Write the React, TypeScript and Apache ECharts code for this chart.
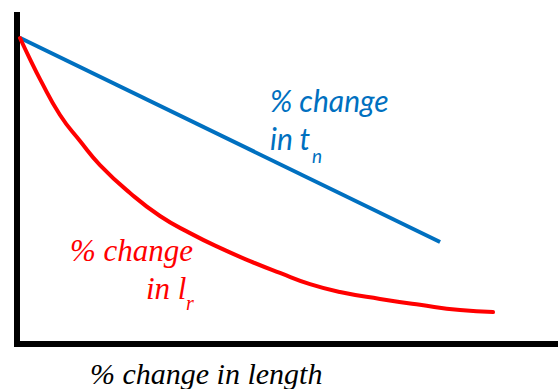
import React, { useEffect, useRef } from "react";
import * as echarts from "echarts";

// x: % change in length (0..100 scale), y: % change (0..100 scale)
const blueX = [0.6, 78.2];
const blueY = [93.0, 31.0];
const redX = [0.55, 2.4, 4.25, 7.95, 11.65, 15.34, 20.89, 26.43, 31.98, 37.52, 43.07, 48.61, 54.16, 59.7, 67.1, 74.49, 81.89, 87.99];
const redY = [93.0, 86.6, 80.5, 69.6, 61.7, 54.4, 45.9, 38.9, 33.7, 29.2, 25.2, 21.6, 18.2, 15.8, 13.7, 11.9, 10.3, 9.7];
const xTitle = "% change in length";
const blueLabel = ["% change", "in t", "n"];
const redLabel = ["% change", "in l", "r"];

export default function App() {
  const ref = useRef<HTMLDivElement>(null);
  useEffect(() => {
    if (!ref.current) return;
    const chart = echarts.init(ref.current, null, { renderer: "svg" });
    const sans = { fontFamily: "Lato, 'Open Sans', sans-serif", fontStyle: "italic" };
    const serif = { fontFamily: "'Times New Roman', 'Liberation Serif', Times, serif", fontStyle: "italic" };
    chart.setOption({
      animation: false,
      grid: { left: 17, right: 0, top: 15, bottom: 45 },
      xAxis: {
        type: "value",
        min: 0,
        max: 100,
        axisLine: { show: true, lineStyle: { color: "#000", width: 6, cap: "square" } },
        axisTick: { show: false },
        axisLabel: { show: false },
        splitLine: { show: false },
      },
      yAxis: {
        type: "value",
        min: 0,
        max: 100,
        axisLine: { show: true, lineStyle: { color: "#000", width: 6, cap: "square" } },
        axisTick: { show: false },
        axisLabel: { show: false },
        splitLine: { show: false },
      },
      series: [
        {
          type: "line",
          data: blueX.map((x, i) => [x, blueY[i]]),
          symbol: "none",
          lineStyle: { color: "#0070C0", width: 4 },
        },
        {
          type: "line",
          data: redX.map((x, i) => [x, redY[i]]),
          symbol: "none",
          smooth: 0.5,
          lineStyle: { color: "#FF0000", width: 4, cap: "round", join: "round" },
        },
      ],
      graphic: [
        { type: "text", x: 270, y: 100, style: { text: blueLabel[0], ...sans, fontSize: 30, fill: "#0070C0", textVerticalAlign: "middle" } },
        { type: "text", x: 270, y: 138, style: { text: blueLabel[1], ...sans, fontSize: 30, fill: "#0070C0", textVerticalAlign: "middle" } },
        { type: "text", x: 312, y: 155, style: { text: blueLabel[2], ...sans, fontSize: 19, fill: "#0070C0", textVerticalAlign: "middle" } },
        { type: "text", x: 70, y: 250, style: { text: redLabel[0], ...serif, fontSize: 31, fill: "#FF0000", textVerticalAlign: "middle" } },
        { type: "text", x: 146, y: 288, style: { text: redLabel[1], ...serif, fontSize: 31, fill: "#FF0000", textVerticalAlign: "middle" } },
        { type: "text", x: 186, y: 303, style: { text: redLabel[2], ...serif, fontSize: 20, fill: "#FF0000", textVerticalAlign: "middle" } },
        { type: "text", x: 90, y: 373, style: { text: xTitle, ...serif, fontSize: 30, fill: "#000", textVerticalAlign: "middle" } },
      ],
    });
    return () => chart.dispose();
  }, []);
  return (
    <div
      ref={ref}
      style={{ position: "fixed", left: 0, top: 0, width: 558, height: 389, background: "#fff" }}
    />
  );
}
